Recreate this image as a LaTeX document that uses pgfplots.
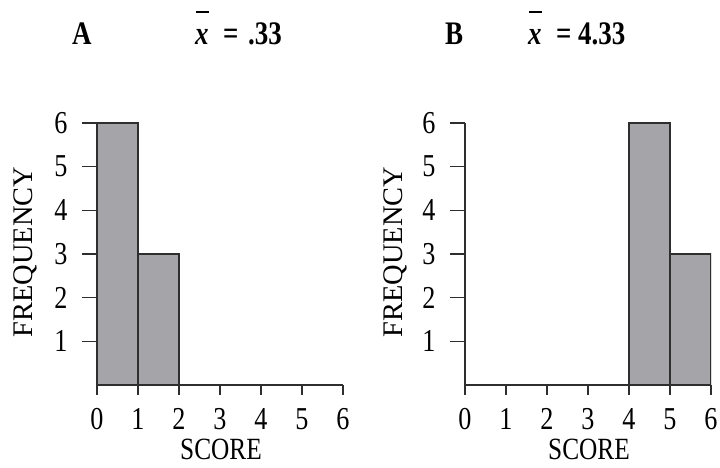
\documentclass[border=0pt]{standalone}
\usepackage{pgfplots}
\pgfplotsset{compat=1.18}
\usepackage{fontspec}
\setmainfont{Liberation Serif}
% the reference's lettering is tall and narrow
\newfontfamily\tallfont[FakeStretch=0.82]{Liberation Serif}
\definecolor{barfill}{HTML}{A5A4A9}
\definecolor{barline}{HTML}{2E2E2E}

\pgfplotsset{
  histo/.style={
    scale only axis,
    width=246bp, height=262bp,
    xmin=0, xmax=6, ymin=0, ymax=6,
    axis x line=bottom, axis y line=left,
    axis line style={-, barline, line width=1.4pt},
    xtick={0,...,6}, ytick={1,...,6},
    tick align=outside,
    tick style={barline, line width=1.4pt},
    xtick style={/pgfplots/major tick length=10bp},
    ytick style={/pgfplots/major tick length=15bp},
    /pgf/number format/assume math mode=true,
    tick label style={font=\tallfont\fontsize{32}{32}\selectfont, inner sep=0pt},
    xticklabel style={anchor=north, yshift=-19bp},
    yticklabel style={anchor=east, xshift=-25bp},
  },
  bars/.style={ybar interval, fill=barfill, draw=barline, line width=1.4pt},
}

\newcommand{\xbar}{\textit{x}\llap{\rule[0.98em]{0.38em}{0.06em}\hspace{0.0em}}}

\begin{document}
\begin{tikzpicture}[x=1bp, y=1bp]
\useasboundingbox (0,0) rectangle (720,468);

\begin{axis}[histo, at={(97bp,83bp)}, anchor=south west]
  \addplot[bars] coordinates {(0,6) (1,3) (2,3)};
\end{axis}

\begin{axis}[histo, at={(465bp,83bp)}, anchor=south west]
  \addplot[bars] coordinates {(4,6) (5,3) (6,3)};
\end{axis}

\begin{scope}[every node/.style={inner sep=0pt, anchor=base west,
    font=\tallfont\fontsize{33}{33}\selectfont\bfseries}]
  \node at (72,423) {A};
  \node at (195,423) {\xbar};
  \node at (223,423) {=};
  \node at (248,423) {.33};
  \node at (445,423) {B};
  \node at (528,423) {\xbar};
  \node at (556,423) {=};
  \node at (578,423) {4.33};
\end{scope}

\begin{scope}[every node/.style={inner sep=0pt}]
  \node[rotate=90, font=\fontsize{28.5}{28.5}\selectfont] at (25,216) {FREQUENCY};
  \node[rotate=90, font=\fontsize{28.5}{28.5}\selectfont] at (395,216) {FREQUENCY};
  \node[anchor=base, font=\tallfont\fontsize{31}{31}\selectfont] at (221,8) {SCORE};
  \node[anchor=base, font=\tallfont\fontsize{31}{31}\selectfont] at (589,8) {SCORE};
\end{scope}
\end{tikzpicture}
\end{document}
